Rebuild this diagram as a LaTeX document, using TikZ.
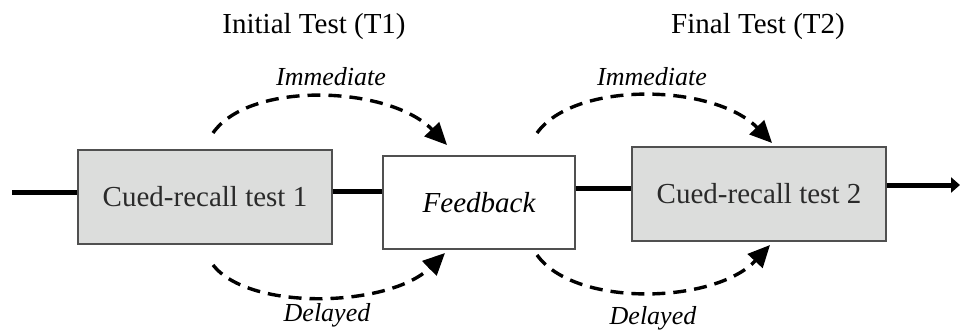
\documentclass[tikz,border=0pt]{standalone}
\usepackage{fontspec}
\setmainfont{Liberation Serif}
\usetikzlibrary{arrows.meta}
\definecolor{boxfill}{HTML}{DCDDDC}
\definecolor{boxline}{HTML}{505050}
\definecolor{boxtext}{HTML}{2A2A2A}
\begin{document}
\begin{tikzpicture}[x=1pt,y=-1pt,
  testbox/.style={draw=boxline, line width=1.2pt, fill=boxfill, minimum width=254pt, minimum height=94pt, inner sep=0pt, text=boxtext, font=\fontsize{29}{32}\selectfont},
  fbbox/.style={draw=boxline, line width=1.2pt, fill=white, minimum width=192pt, minimum height=93pt, inner sep=0pt, font=\fontsize{29}{32}\selectfont\itshape},
  title/.style={font=\fontsize{29}{32}\selectfont},
  lab/.style={font=\fontsize{26}{30}\selectfont\itshape},
  mainline/.style={line width=5pt},
  dasharc/.style={line width=3.4pt, dash pattern=on 13pt off 8pt, -{Triangle[length=22pt,width=20pt]}}
]
\useasboundingbox (0,0) rectangle (960,334);

\node[testbox] (b1) at (205,197) {Cued-recall test 1};
\node[fbbox] (fb) at (479,202.5) {Feedback};
\node[testbox] (b2) at (759,194) {Cued-recall test 2};

\node[title] (t1) at (314,27) {Initial Test (T1)};
\node[title] (t2) at (758,27) {Final Test (T2)};

\node[lab] (i1) at (331,77) {Immediate};
\node[lab] (i2) at (652,77) {Immediate};
\node[lab] (d1) at (327,315) {Delayed};
\node[lab] (d2) at (653,318) {Delayed};

% main line
\coordinate (s0) at (12,192);
\coordinate (s1) at (355,191);
\coordinate (s2) at (600,188);
\coordinate (s3) at (960,185);
\draw[mainline] (s0) -- (s0 -| b1.west);
\draw[mainline] (s1 -| b1.east) -- (s1 -| fb.west);
\draw[mainline] (s2 -| fb.east) -- (s2 -| b2.west);
\draw[mainline, -{Triangle[length=9pt,width=15pt]}] (s3 -| b2.east) -- (s3);

% dashed arcs
\coordinate (a1s) at (213,133);
\coordinate (a1e) at (447,145);
\coordinate (a2s) at (537,133);
\coordinate (a2e) at (772,143);
\coordinate (a3s) at (213,265);
\coordinate (a3e) at (445,253);
\coordinate (a4s) at (537,255);
\coordinate (a4e) at (770,245);
\draw[dasharc] (a1s) .. controls (250,80) and (390,86) .. (a1e);
\draw[dasharc] (a2s) .. controls (575,80) and (715,84) .. (a2e);
\draw[dasharc] (a3s) .. controls (250,312) and (390,307) .. (a3e);
\draw[dasharc] (a4s) .. controls (575,308) and (715,304) .. (a4e);
\end{tikzpicture}
\end{document}
